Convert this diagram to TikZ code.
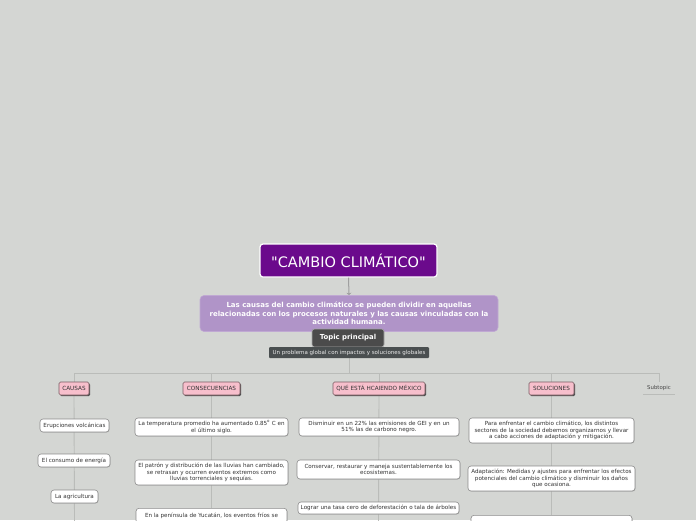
\documentclass[tikz,border=0pt]{standalone}
\usepackage{fontspec}
\setmainfont{DejaVu Sans}
\usetikzlibrary{shadows,arrows.meta}
\pgfdeclarelayer{bglayer}
\pgfdeclarelayer{linelayer}
\pgfsetlayers{bglayer,linelayer,main}
\definecolor{bgc}{HTML}{D4D6D3}
\definecolor{titlec}{HTML}{6B0A8C}
\definecolor{lavc}{HTML}{B094C8}
\definecolor{topc}{HTML}{4B4B4B}
\definecolor{capc}{HTML}{4A4F50}
\definecolor{pinkc}{HTML}{F7BFCC}
\definecolor{pinkb}{HTML}{7A5C62}
\definecolor{treec}{HTML}{BABCB9}
\definecolor{boxb}{HTML}{8C8C8C}
\definecolor{txtc}{HTML}{333333}
\tikzset{
  treeline/.style={draw=treec, line width=0.9pt},
  titlebox/.style={fill=titlec, draw=white, line width=1.2pt, rounded corners=3pt,
    text=white, font=\fontsize{14.5}{16}\selectfont, inner sep=0pt, align=center},
  lavbox/.style={fill=lavc, draw=lavc!80!white, line width=0.6pt, rounded corners=4pt,
    text=white, font=\bfseries\fontsize{7}{8.5}\selectfont, inner sep=0pt, align=center},
  topicbox/.style={fill=topc, draw=gray!70, line width=0.6pt, rounded corners=2.5pt,
    text=white, font=\bfseries\fontsize{6.9}{8}\selectfont, inner sep=0pt, align=center},
  capbox/.style={fill=capc, rounded corners=1pt, text=white!92!black,
    font=\fontsize{5.5}{6.5}\selectfont, inner sep=0pt, align=center},
  catbox/.style={fill=pinkc, draw=pinkb, line width=0.6pt, rounded corners=1.5pt,
    text=txtc, font=\fontsize{5.7}{6.5}\selectfont, inner sep=0pt, align=center,
    minimum height=13pt,
    drop shadow={shadow xshift=1.2pt, shadow yshift=-1.2pt, fill=black!75, opacity=0.9}},
  wbox/.style={fill=white, draw=boxb, line width=0.6pt, rounded corners=3pt,
    text=txtc, font=\fontsize{5.6}{6.8}\selectfont, inner sep=0pt, align=center,
    drop shadow={shadow xshift=0.6pt, shadow yshift=-0.6pt, fill=black!40, opacity=0.5}},
  subtxt/.style={text=txtc!90!white, font=\fontsize{5.4}{6}\selectfont, inner sep=0pt,
    minimum width=32pt, minimum height=12pt, align=center},
  tiparrow/.style={draw=gray!75, line width=1pt, -{Stealth[length=2.5pt,width=5pt]}}
}
\begin{document}
\begin{tikzpicture}[x=1pt,y=-1pt]
\useasboundingbox (0,0) rectangle (696,520);
\begin{pgfonlayer}{bglayer}
\fill[bgc] (0,0) rectangle (696,520);
\end{pgfonlayer}

% central
\node[titlebox, minimum width=177pt, minimum height=33pt] (title) at (348.5,260.5) {\textquotedbl CAMBIO CLIMÁTICO\textquotedbl};
\node[lavbox, minimum width=298pt, minimum height=36pt] (lav) at (349,313.5)
  {Las causas del cambio climático se pueden dividir en aquellas\\ relacionadas con los procesos naturales y las causas vinculadas con la\\ actividad humana.};
\node[topicbox, minimum width=72pt, minimum height=18pt] (topic) at (348,338) {Topic principal};
\node[capbox, minimum width=160pt, minimum height=11pt] (cap) at (349,352.5) {Un problema global con impactos y soluciones globales};

\draw[tiparrow] (title.south) -- (lav.north);

% categories
\node[catbox, minimum width=30pt] (causas) at (74,388.5) {CAUSAS};
\node[catbox, minimum width=57pt] (consec) at (211.5,388.5) {CONSECUENCIAS};
\node[catbox, minimum width=92pt] (mexico) at (379,388.5) {QUÉ ESTÁ HCAIENDO MÉXICO};
\node[catbox, minimum width=45pt] (soluc) at (551.5,388.5) {SOLUCIONES};
\node[subtxt] (sub) at (659,388.5) {Subtopic};

% CAUSAS children
\node[wbox, minimum width=69pt, minimum height=13pt] (c1) at (74.5,425.5) {Erupciones volcánicas};
\node[wbox, minimum width=72pt, minimum height=13pt] (c2) at (74,460.5) {El consumo de energía};
\node[wbox, minimum width=47pt, minimum height=13pt] (c3) at (74.5,496.5) {La agricultura};
\coordinate (cend) at (74.5,522);

% CONSECUENCIAS children
\node[wbox, minimum width=153pt, minimum height=18pt] (k1) at (211.5,427)
  {La temperatura promedio ha aumentado 0.85\textsuperscript{o} C en\\ el último siglo.};
\node[wbox, minimum width=153pt, minimum height=25pt] (k2) at (211.5,472.5)
  {El patrón y distribución de las lluvias han cambiado,\\ se retrasan y ocurren eventos extremos como\\ lluvias torrenciales y sequías.};
\node[wbox, minimum width=151pt, minimum height=15pt, anchor=north] (k3) at (211.5,508)
  {En la península de Yucatán, los eventos fríos se};

% MEXICO children
\node[wbox, minimum width=160pt, minimum height=18pt] (m1) at (379,427)
  {Disminuir en un 22\% las emisiones de GEI y en un\\ 51\% las de carbono negro.};
\node[wbox, minimum width=163pt, minimum height=19pt] (m2) at (378.5,469.5)
  {Conservar, restaurar y maneja sustentablemente los\\ ecosistemas.};
\node[wbox, minimum width=161pt, minimum height=12pt] (m3) at (378.5,508)
  {Lograr una tasa cero de deforestación o tala de árboles};
\coordinate (mend) at (378.5,522);

% SOLUCIONES children
\node[wbox, minimum width=165pt, minimum height=25pt] (s1) at (551.5,430.5)
  {Para enfrentar el cambio climático, los distintos\\ sectores de la sociedad debemos organizarnos y llevar\\ a cabo acciones de adaptación y mitigación.};
\node[wbox, minimum width=167pt, minimum height=25pt] (s2) at (551.5,478.5)
  {Adaptación: Medidas y ajustes para enfrentar los efectos\\ potenciales del cambio climático y disminuir los daños\\ que ocasiona.};
\node[wbox, minimum width=161pt, minimum height=10pt, anchor=north] (s3) at (551.5,515) {};

% tree lines
\coordinate (bus) at (349,373);
\begin{pgfonlayer}{linelayer}
\draw[treeline] (cap.south) -- (bus);
\draw[treeline] (bus) -| (causas.north);
\draw[treeline] (bus) -| (consec.north);
\draw[treeline] (bus) -| (mexico.north);
\draw[treeline] (bus) -| (soluc.north);
\draw[treeline] (bus) -| (sub.north);
\draw[treeline] (causas.south) -- (cend);
\draw[treeline] (consec.south) -- (k3.north);
\draw[treeline] (mexico.south) -- (mend);
\draw[treeline] (soluc.south) -- (s3.north);
\draw[treeline] ([xshift=-16pt,yshift=-5.5pt]sub.center) -- ([xshift=16pt,yshift=-5.5pt]sub.center);
\end{pgfonlayer}
\end{tikzpicture}
\end{document}
